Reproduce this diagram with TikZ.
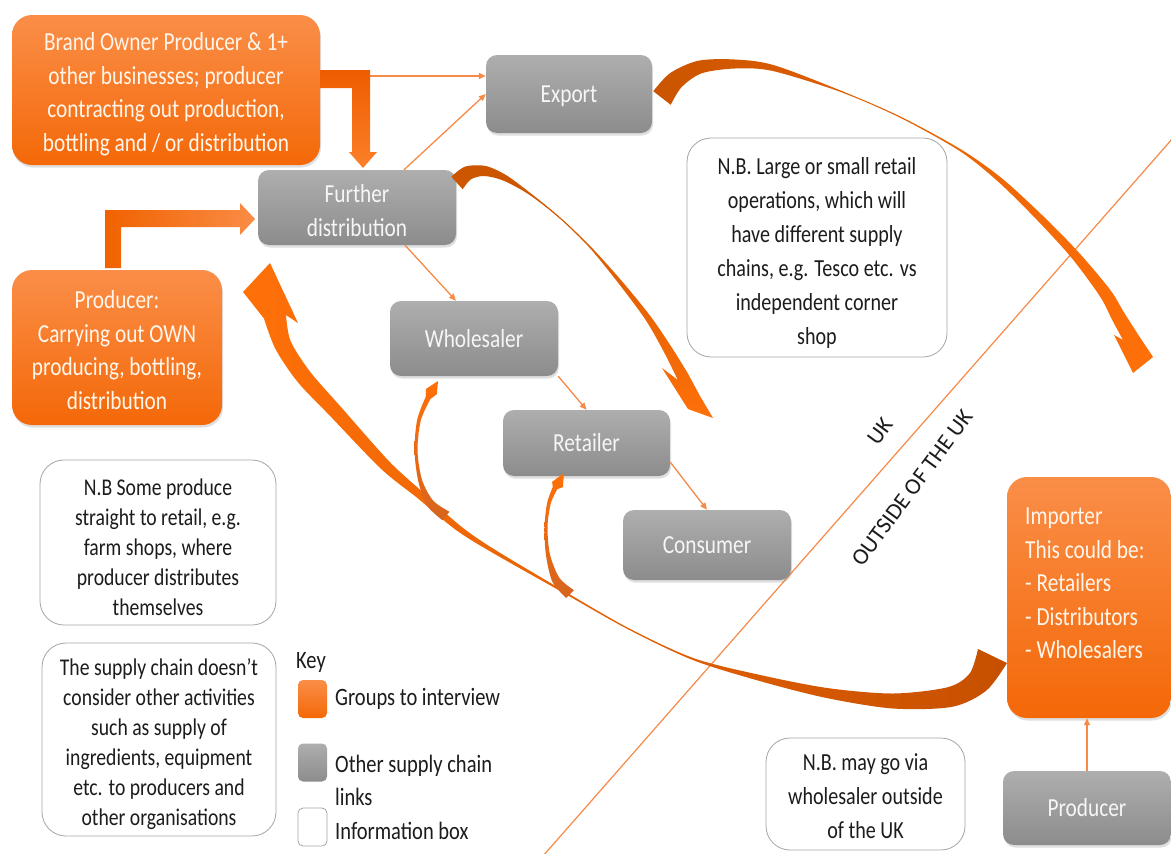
\documentclass[tikz,border=0pt]{standalone}
\usepackage{fontspec}
\setmainfont{Carlito}[FakeStretch=0.82]
\newfontfamily\plainfont{Carlito}
\usetikzlibrary{arrows.meta,shadows}
\definecolor{orA}{RGB}{250,142,72}
\definecolor{orB}{RGB}{244,104,8}
\definecolor{grA}{RGB}{174,174,174}
\definecolor{grB}{RGB}{140,140,140}
\definecolor{ordark}{RGB}{202,84,0}
\definecolor{orbright}{RGB}{255,112,8}
\definecolor{orbase}{RGB}{198,80,0}
\definecolor{orsmall}{RGB}{214,100,30}
\definecolor{bentA}{RGB}{238,92,0}
\definecolor{bentB}{RGB}{252,128,40}
\definecolor{bentC}{RGB}{240,98,0}
\definecolor{bentD}{RGB}{250,140,70}
\definecolor{linec}{RGB}{246,138,70}
\definecolor{infoline}{RGB}{165,165,165}
\definecolor{txt}{RGB}{28,28,28}
\definecolor{boxtxt}{RGB}{246,246,246}
\definecolor{ortxt}{RGB}{255,246,236}
\newcommand\bigtxt{\fontsize{26}{33.5}\selectfont}
\newcommand\smalltxt{\fontsize{24}{30}\selectfont}
\newcommand\infotxt{\fontsize{24.5}{34}\selectfont}
\newcommand\keytxt{\fontsize{25}{33}\selectfont}
\newcommand\tstrut[1]{\rule{0pt}{#1pt}}
\tikzset{
  shadowed/.style={drop shadow={shadow xshift=1pt,shadow yshift=-2.5pt,opacity=0.25}},
  orangebox/.style={rounded corners=20pt, top color=orA, bottom color=orB, text=ortxt,
    font=\bigtxt, align=center, inner sep=0pt, shadowed},
  graybox/.style={rounded corners=11pt, top color=grA, bottom color=grB, text=boxtxt,
    font=\bigtxt, align=center, inner sep=0pt, shadowed},
  infobox/.style={rounded corners=24pt, draw=infoline, line width=0.8pt, fill=white,
    text=txt, align=center, inner sep=0pt},
  conn/.style={draw=linec, line width=1.3pt, -{Triangle[length=7pt,width=6pt]}},
  keysq/.style={minimum width=29pt, minimum height=38pt, rounded corners=5pt, inner sep=0pt},
  keytext/.style={text=txt, font=\keytxt, inner sep=0pt, align=left},
  uktext/.style={rotate=53.6, text=txt, inner sep=0pt, font={\plainfont\fontsize{23}{28}\selectfont}}
}
\begin{document}
\begin{tikzpicture}[x=1pt,y=-1pt]
\useasboundingbox (0,0) rectangle (1171,854);
\fill[white] (0,0) rectangle (1171,854);

% border line UK / outside
\draw[linec, line width=1.2pt] (543,856) coordinate (d1) -- (1173,138) coordinate (d2);
\node[uktext] (uk) at (880,431) {UK};
\node[uktext] (ouk) at (912,488) {OUTSIDE OF THE UK};

% boxes
\node[orangebox, minimum width=308pt, minimum height=150pt] (bo) at (166,90)
  {\tstrut{26}Brand Owner Producer \& 1+\\other businesses; producer\\contracting out production,\\bottling and / or distribution};
\node[graybox, minimum width=166pt, minimum height=78pt] (ex) at (569,94) {\tstrut{22}Export};
\node[graybox, minimum width=198pt, minimum height=75pt] (fd) at (357,207.5) {\tstrut{24.5}Further\\distribution};
\node[orangebox, minimum width=210pt, minimum height=155pt] (pr) at (117,347.5)
  {\tstrut{23.5}Producer:\\Carrying out OWN\\producing, bottling,\\distribution};
\node[graybox, minimum width=168pt, minimum height=75pt] (wh) at (474,338.5) {Wholesaler};
\node[graybox, minimum width=167pt, minimum height=66pt] (re) at (586.5,443) {Retailer};
\node[graybox, minimum width=168pt, minimum height=70pt] (co) at (707,545) {Consumer};
\node[orangebox, minimum width=164pt, minimum height=241pt] (im) at (1089,597.5) {};
\node[anchor=north west, text=ortxt, font=\bigtxt, align=left, inner sep=0pt] (imt) at (1025,508)
  {Importer\\This could be:\\- Retailers\\- Distributors\\- Wholesalers};
\node[graybox, minimum width=168pt, minimum height=74pt] (p2) at (1087,808) {Producer};

% information boxes
\node[infobox, font=\infotxt, minimum width=260pt, minimum height=219pt] (nb1) at (817,247.5)
  {\tstrut{27.5}N.B. Large or small retail\\operations, which will\\have different supply\\chains, e.g. Tesco etc. vs\\independent corner\\shop};
\node[infobox, font=\smalltxt, minimum width=236pt, minimum height=165pt] (nb2) at (158,542.5)
  {\tstrut{26}N.B Some produce\\straight to retail, e.g.\\farm shops, where\\producer distributes\\themselves};
\node[infobox, font=\smalltxt, minimum width=234pt, minimum height=193pt] (nb3) at (159,739.5)
  {\tstrut{27}The supply chain doesn’t\\consider other activities\\such as supply of\\ingredients, equipment\\etc. to producers and\\other organisations};
\node[infobox, font=\infotxt, minimum width=199pt, minimum height=112pt] (nb4) at (865.5,794)
  {\tstrut{22}N.B. may go via\\wholesaler outside\\of the UK};

% key
\node[keytext, anchor=west] (key) at (296,662) {Key};
\node[keysq, top color=orA, bottom color=orB] (k1) at (312.5,699) {};
\node[keytext, anchor=west] (k1t) at (335,699) {Groups to interview};
\node[keysq, top color=grA, bottom color=grB] (k2) at (312.5,762.5) {};
\node[keytext, anchor=west] (k2t) at (335,780) {Other supply chain\\links};
\node[keysq, draw=infoline, line width=0.8pt, fill=white] (k3) at (312.5,827) {};
\node[keytext, anchor=west] (k3t) at (335,831) {Information box};

% thin connectors
\draw[conn] ([yshift=14pt]bo.east) -- ([yshift=18pt]ex.west);
\draw[conn] ([xshift=47pt]fd.north) -- (ex.west);
\draw[conn] ([xshift=48pt]fd.south) -- ([xshift=-18pt]wh.north);
\draw[conn] (wh.south east) -- (re.north);
\draw[conn] ([yshift=-19pt]re.east) -- (co.north);
\draw[conn] (p2.north) -- (p2.north |- im.south);

% bent block arrows
\shade[top color=bentA, bottom color=bentB]
  (320,70) -- (370,70) -- (370,152) -- (377,152) -- (363,168) -- (349,152) -- (352,152) -- (352,88) -- (320,88) -- cycle;
\shade[left color=bentC, right color=bentD]
  (105,268) -- (105,210) -- (240,210) -- (240,203) -- (255,219) -- (240,235) -- (240,227) -- (121,227) -- (121,268) -- cycle;

% curved arrow: Export -> outside UK
\shade[left color=ordark, right color=orbright]
  plot[smooth, tension=0.5] coordinates {(653.3,91.2) (670.3,73.0) (698.3,60.7) (735,59.5) (773.7,65.1) (840.25,90.35) (900.26,116.46) (960.53,149.15) (1001.6,178.1) (1042.5,215.5) (1078.4,252.1) (1110,289.6) (1124.1,312.6) (1139,336)}
  -- (1153,357) -- (1133,373) -- (1114,335)
  -- plot[smooth, tension=0.5] coordinates {(1123,340) (1111.9,319.4) (1100,296.4) (1071.6,257.9) (1037.5,220.5) (998.4,181.9) (959.47,150.85) (899.74,117.54) (839.75,91.65) (772.3,70.9) (735,68.5) (701.7,73.3) (681.7,87.0) (670.7,104.8)}
  -- cycle;

% curved arrow: Further distribution -> down
\shade[top color=ordark, bottom color=orbright]
  plot[smooth, tension=0.5] coordinates {(451.3,176.7) (465.2,166.6) (485.7,166) (506.4,175.3) (530.6,193.2) (560.4,217.55) (590.6,246.45) (621.5,280.7) (650.5,316.3) (671.9,347.7) (688.2,374)}
  -- (700,396) -- (713,418) -- (688,409) -- (662,368)
  -- plot[smooth, tension=0.5] coordinates {(677.8,380) (664.1,352.3) (645.5,319.7) (618.5,283.3) (589.4,247.55) (559.6,218.45) (529.4,194.8) (503.6,180.7) (484.3,176) (470.8,179.4) (462.7,189.3)}
  -- cycle;

% curved arrow: Importer -> Producer / Further distribution
\shade[left color=orbright, right color=orbase]
  plot[smooth, tension=0.5] coordinates {(1007,663) (986.3,690.6) (952.2,706.8) (892.8,708.5) (826.1,697.9) (759.3,680.9) (692.65,659.94) (626.7,628.6) (556.5,588.9) (489,550.7) (455.2,529.4) (417.4,498) (381.1,468.9) (330.8,416.7) (297.7,382) (275.4,348.9) (264,318.5)}
  -- (243,292) -- (270,263) -- (298,323) -- (286,315)
  -- plot[smooth, tension=0.5] coordinates {(286,315) (290.6,341.1) (310.3,372) (341.2,407.3) (388.9,461.1) (422.6,492) (458.8,524.6) (491,547.3) (557.5,587.1) (627.3,627.4) (693.35,658.06) (760.7,675.1) (827.9,688.1) (893.2,693.5) (947.8,687.2) (969.7,673.4) (978,649)}
  -- cycle;

% small curved arrows up to Wholesaler and Retailer
\shade[top color=orbright, bottom color=orsmall]
  plot[smooth, tension=0.5] coordinates {(442.5,520.3) (426.8,505.3) (418.1,480.5) (414.5,450) (417.2,419.6) (425.7,396.9)}
  -- (426.1,388.9) -- (438,381) -- (436.9,394.1)
  -- plot[smooth, tension=0.5] coordinates {(430.3,399.1) (420.8,420.4) (417.5,450) (421.9,479.5) (433.2,500.7) (449.5,511.7)}
  -- cycle;
\shade[top color=orbright, bottom color=orsmall]
  plot[smooth, tension=0.5] coordinates {(566.1,597.9) (552.5,582) (546,555.4) (544.5,527) (547.2,502.6) (552.8,486.9)}
  -- (552.1,481.9) -- (564,473) -- (562.9,487.1)
  -- plot[smooth, tension=0.5] coordinates {(557.3,489.1) (550.8,503.4) (547.5,527) (550,554.6) (559.5,578) (573.9,590.1)}
  -- cycle;
\end{tikzpicture}
\end{document}
